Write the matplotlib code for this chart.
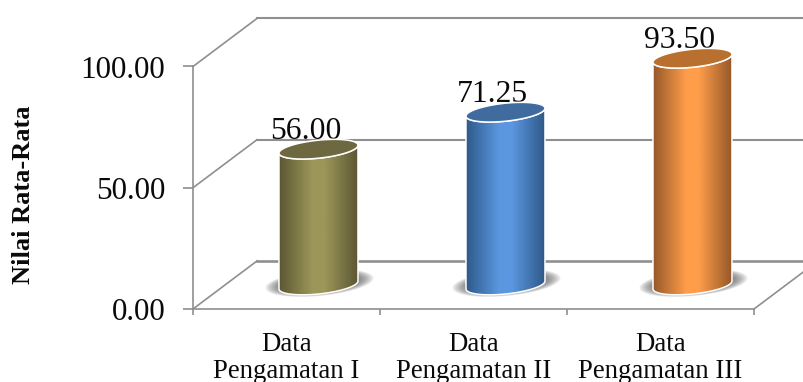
import numpy as np
from matplotlib import pyplot as plt
from matplotlib.colors import LinearSegmentedColormap
from matplotlib.patches import Polygon
from matplotlib.transforms import IdentityTransform

plt.rcParams['font.family'] = ['Liberation Serif', 'DejaVu Serif']

categories = ['Data\nPengamatan I', 'Data\nPengamatan II', 'Data\nPengamatan III']
values = [56.00, 71.25, 93.50]
y_ticks = [0, 50, 100]

# edge, middle, top cap
bar_colors = [
    ('#5c5733', '#9c9659', '#6e6840'),
    ('#2f5a8a', '#5b97e0', '#3f6b9e'),
    ('#96592a', '#ff9d4a', '#b9702f'),
]

grid_color = '#8f8f8f'

# 3d look of the box, in axis units
depth_x = 0.342
depth_y = 19.8

# cylinder shape in pixels
half_w = 39.5
half_h = 9.0
slope = 0.1


def ellipse_points(cx, cy, t):
    px = cx + half_w * np.cos(t)
    py = cy + half_h * np.sin(t) + slope * half_w * np.cos(t)
    return np.column_stack([px, py])


fig = plt.figure(figsize=(8.04, 3.82), dpi=100)
ax = fig.add_axes([193 / 804, 1 - 309 / 382, 561 / 804, 242.5 / 382])
ax.set_xlim(0, 3)
ax.set_ylim(0, 100)
ax.set_autoscale_on(False)
ax.patch.set_visible(False)

for name in ['top', 'right']:
    ax.spines[name].set_visible(False)
for name in ['left', 'bottom']:
    ax.spines[name].set_color(grid_color)
    ax.spines[name].set_linewidth(1.2)

# floor and wall lines
for v in y_ticks:
    lw = 1.9 if v == 0 else 1.5
    ax.plot([0, depth_x], [v, v + depth_y], color=grid_color, lw=1.2, clip_on=False, zorder=1)
    ax.plot([depth_x, 3 + depth_x], [v + depth_y, v + depth_y], color=grid_color, lw=lw, clip_on=False, zorder=1)
ax.plot([3, 3 + depth_x], [0, depth_y], color=grid_color, lw=1.2, clip_on=False, zorder=1)

# value labels sit under the cylinders, the caps hide their lower edge
for i, v in enumerate(values):
    ax.annotate(f'{v:.2f}', (i + 0.5 + depth_x / 2, v + depth_y / 2), xytext=(-13, 10),
                textcoords='offset pixels', ha='center', va='baseline',
                fontsize=22.8, color='#0a0a0a', zorder=2, annotation_clip=False)

t_low = np.linspace(np.pi, 2 * np.pi, 60)
t_full = np.linspace(0, 2 * np.pi, 120)

for i, v in enumerate(values):
    edge, middle, top = bar_colors[i]
    bx, by = ax.transData.transform((i + 0.5 + depth_x / 2, depth_y / 2))
    tx, ty = ax.transData.transform((i + 0.5 + depth_x / 2, v + depth_y / 2))

    # soft shadow on the floor
    for s in np.linspace(1.0, 0.6, 14):
        sx = bx + 1 + 54 * s * np.cos(t_full)
        sy = by + 2 + 13 * s * np.sin(t_full) + 0.09 * 54 * s * np.cos(t_full)
        ax.add_patch(Polygon(np.column_stack([sx, sy]), closed=True, facecolor='#555555', edgecolor='none',
                             alpha=0.11, transform=IdentityTransform(), clip_on=False, zorder=3))

    # body = bottom half ellipse, then straight up and back along the top
    low = ellipse_points(bx, by, t_low)
    high = ellipse_points(tx, ty, t_low[::-1])
    body_pts = np.vstack([low, high])
    outline = Polygon(body_pts, closed=True, facecolor='none', edgecolor='white', lw=1.1,
                      transform=IdentityTransform(), clip_on=False, zorder=5)
    clip_shape = Polygon(body_pts, closed=True, transform=IdentityTransform())

    cmap = LinearSegmentedColormap.from_list(
        f'bar{i}', [(0, edge), (0.42, middle), (0.58, middle), (1, edge)])
    img = ax.imshow(np.linspace(0, 1, 200).reshape(1, -1), cmap=cmap, aspect='auto',
                    extent=[bx - half_w, bx + half_w, by - 30, ty + 30],
                    transform=IdentityTransform(), zorder=4)
    # the tallest cylinder goes above the axes box
    img.set_clip_box(fig.bbox)
    img.set_clip_path(clip_shape)
    ax.add_patch(outline)

    cap = Polygon(ellipse_points(tx, ty, t_full), closed=True, facecolor=top, edgecolor='white', lw=1.1,
                  transform=IdentityTransform(), clip_on=False, zorder=6)
    ax.add_patch(cap)

ax.set_yticks(y_ticks)
ax.set_yticklabels([f'{v:.2f}' for v in y_ticks], fontsize=22.4, color='#0a0a0a')
ax.tick_params(axis='y', length=7, width=1.2, color=grid_color, pad=13)

ax.set_xticks(range(4))
ax.set_xticklabels([])
ax.tick_params(axis='x', length=4.5, width=1.2, color=grid_color)
ax.set_xticks(np.arange(3) + 0.5, labels=categories, minor=True, fontsize=19.3, linespacing=1.12, color='#0a0a0a')
ax.tick_params(axis='x', which='minor', length=0, pad=16.5)

fig.text(23.5 / 804, 1 - 195 / 382, 'Nilai Rata-Rata', rotation=90, ha='center', va='center',
         fontsize=19, fontweight='bold', color='#0a0a0a')

fig.savefig('out.png', dpi=100)
plt.close(fig)
